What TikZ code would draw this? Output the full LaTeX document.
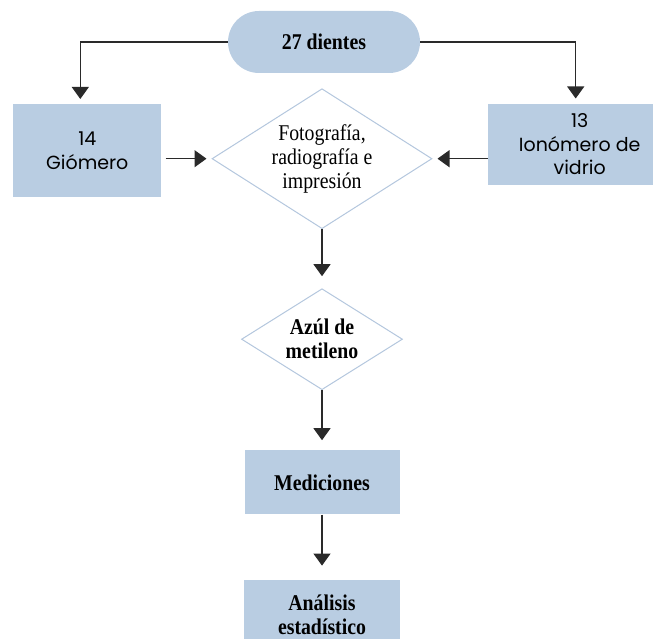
\documentclass[tikz,border=0pt]{standalone}
\usepackage{fontspec}
\setmainfont[FakeStretch=0.88]{Liberation Serif}
\newfontfamily\boxsans{Poppins}
\usepackage{xcolor}
\usetikzlibrary{arrows.meta,positioning,shapes.geometric}
\definecolor{boxblue}{HTML}{B9CDE2}
\definecolor{edgeblue}{HTML}{B4C7DE}
\definecolor{linkgray}{HTML}{2A2A2A}
\tikzset{
  >={Triangle[length=12pt,width=17pt]},
  link/.style={->,line width=1.1pt,draw=linkgray},
  base/.style={align=center,inner sep=0pt,font=\fontsize{22.5}{24}\selectfont},
  start/.style={base,fill=boxblue,rounded corners=31pt,minimum width=192pt,minimum height=62pt,font=\fontsize{22.5}{24}\selectfont\bfseries},
  group/.style={base,fill=boxblue,font=\boxsans\fontsize{19}{23.5}\selectfont},
  process/.style={base,fill=boxblue,font=\fontsize{22.5}{24}\selectfont\bfseries},
  check/.style={base,diamond,draw=edgeblue,line width=1pt,fill=white,aspect=1.57}
}
\begin{document}
\begin{tikzpicture}
  \clip (0,0) rectangle (653pt,-639pt);
  \node[start] (dientes) at (324pt,-42pt) {27 dientes};
  \node[check,minimum width=220pt,minimum height=140pt,below=15pt of dientes,xshift=-2pt] (foto) {Fotografía,\\radiografía e\\impresión};
  \node[group,minimum width=148pt,minimum height=93pt,left=50pt of foto,yshift=8pt] (giomero) {14\\Giómero};
  \node[group,minimum width=184pt,minimum height=81pt,right=55pt of foto,yshift=14.5pt] (ionomero) {13\\Ionómero de\\vidrio};
  \node[check,minimum width=161pt,minimum height=101pt,below=59pt of foto,font=\fontsize{22.5}{24}\selectfont\bfseries] (azul) {Azúl de\\metileno};
  \node[process,minimum width=155pt,minimum height=64pt,below=60pt of azul] (medic) {Mediciones};
  \node[process,minimum width=156pt,minimum height=70pt,below=65pt of medic] (analisis) {Análisis\\estadístico};
  \draw[link,shorten >=5pt] (dientes.west) -| ([xshift=-7pt]giomero.north);
  \draw[link,shorten >=5pt] (dientes.east) -| ([xshift=-4pt]ionomero.north);
  \draw[link,shorten <=4pt,shorten >=5pt] (giomero.east |- foto.west) -- (foto.west);
  \draw[link,shorten >=5pt] (ionomero.west |- foto.east) -- (foto.east);
  \draw[link,shorten >=12pt] (foto.south) -- (azul.north);
  \draw[link,shorten >=10pt] (azul.south) -- (medic.north);
  \draw[link,shorten >=14pt] (medic.south) -- (analisis.north);
\end{tikzpicture}
\end{document}
